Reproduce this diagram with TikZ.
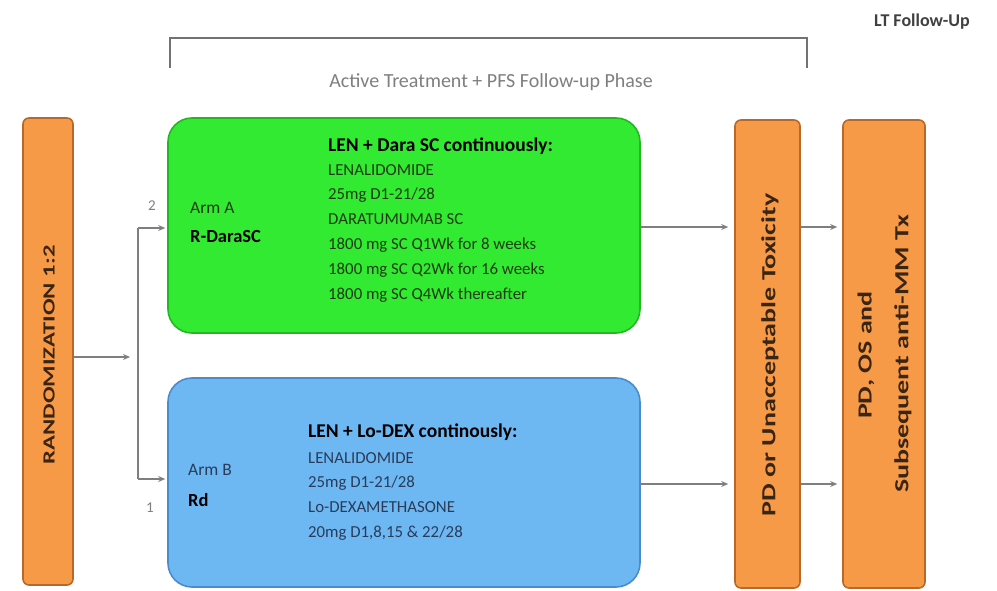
\documentclass[tikz,border=0pt]{standalone}
\usepackage{fontspec}
\setmainfont{Carlito}
\usetikzlibrary{arrows.meta,positioning,calc}
\definecolor{orangebox}{HTML}{F79A48}
\definecolor{orangeedge}{HTML}{B8692A}
\definecolor{greenbox}{HTML}{33EA33}
\definecolor{greenedge}{HTML}{22B822}
\definecolor{bluebox}{HTML}{6DB8F2}
\definecolor{blueedge}{HTML}{4A8CCB}
\definecolor{linegray}{HTML}{7F7F7F}
\definecolor{browntext}{HTML}{3A2412}
\definecolor{greentext}{HTML}{1E3A12}
\definecolor{bluetext}{HTML}{2A3C5A}
\tikzset{
  x=1pt, y=-1pt,
  orangebar/.style={draw=orangeedge, line width=1.6pt, fill=orangebox, rounded corners=6pt, inner sep=0pt},
  armbox/.style={rounded corners=24pt, line width=1.6pt, inner sep=0pt},
  arr/.style={draw=linegray, line width=1.4pt, -{Stealth[length=7pt,width=6pt]}},
  plain/.style={draw=linegray, line width=1.4pt},
  bartext/.style={font=\fontsize{20}{24}\selectfont\bfseries, text=browntext, rotate=90, inner sep=0pt},
  body/.style={inner sep=0pt, anchor=north west, align=left}
}
\begin{document}
\begin{tikzpicture}
\useasboundingbox (0,0) rectangle (997,591);
\fill[white] (0,0) rectangle (997,591);

% bars
\node[orangebar, minimum width=50pt, minimum height=467pt] (rand) at (48,351.5) {};
\node[bartext, font=\fontsize{17}{20}\selectfont\bfseries] (randtxt) at (49,355) {\scalebox{1.45}[1]{RANDOMIZATION 1:2}};
\node[orangebar, minimum width=65pt, minimum height=468pt] (pd) at (767.5,354) {};
\node[bartext] (pdtxt) at (770,355) {\scalebox{1.4}[1]{PD or Unacceptable Toxicity}};
\node[orangebar, minimum width=82pt, minimum height=468pt] (fu) at (884,354) {};
\node[bartext] (futxt1) at (866,355) {\scalebox{1.4}[1]{PD, OS and}};
\node[bartext] (futxt2) at (903,354) {\scalebox{1.4}[1]{Subsequent anti-MM Tx}};

% arm boxes
\node[armbox, draw=greenedge, fill=greenbox, minimum width=472pt, minimum height=215pt] (armA) at (404,225.5) {};
\node[armbox, draw=blueedge, fill=bluebox, minimum width=472pt, minimum height=209pt] (armB) at (404,482.5) {};

% arm A texts
\node[body, anchor=west, font=\fontsize{17.5}{20}\selectfont, text=greentext] (aA1) at (190,208) {Arm A};
\node[body, anchor=west, font=\fontsize{18.5}{20}\selectfont\bfseries, text=black] (aA2) at (190,237) {R-DaraSC};
\node[body, anchor=west, font=\fontsize{19.5}{22}\selectfont\bfseries, text=black] (aAh) at (328,146) {LEN + Dara SC continuously:};
\node[body, font=\fontsize{16.8}{24.8}\selectfont, text=greentext] (aAb) at (328,164) {LENALIDOMIDE\\25mg D1-21/28\\DARATUMUMAB SC\\1800 mg SC Q1Wk for 8 weeks\\1800 mg SC Q2Wk for 16 weeks\\1800 mg SC Q4Wk thereafter};

% arm B texts
\node[body, anchor=west, font=\fontsize{17.5}{20}\selectfont, text=bluetext] (aB1) at (188,470) {Arm B};
\node[body, anchor=west, font=\fontsize{18.5}{20}\selectfont\bfseries, text=black] (aB2) at (188,500) {Rd};
\node[body, anchor=west, font=\fontsize{19.5}{22}\selectfont\bfseries, text=black] (aBh) at (308,432) {LEN + Lo-DEX continously:};
\node[body, font=\fontsize{16.8}{24.8}\selectfont, text=bluetext] (aBb) at (308,452) {LENALIDOMIDE\\25mg D1-21/28\\Lo-DEXAMETHASONE\\20mg D1,8,15 \& 22/28};

% randomization split
\coordinate (split) at (138,357);
\coordinate (splitA) at (138,228);
\coordinate (splitB) at (138,479);
\draw[arr] (rand.east |- split) -- ([xshift=-8pt]split);
\draw[plain] (splitA) -- (splitB);
\draw[arr] (splitA) -- ([xshift=-2pt]armA.west |- splitA);
\draw[arr] (splitB) -- ([xshift=-2pt]armB.west |- splitB);
\node[text=linegray, font=\fontsize{15}{16}\selectfont] (n2) at (152,206) {2};
\node[text=linegray, font=\fontsize{15}{16}\selectfont] (n1) at (150,508) {1};

% arms to PD
\coordinate (yA) at (0,227);
\coordinate (yB) at (0,484);
\draw[arr] (armA.east |- yA) -- ([xshift=-6pt]pd.west |- yA);
\draw[arr] ([xshift=-2pt]armB.east |- yB) -- ([xshift=-6pt]pd.west |- yB);
\draw[arr] (pd.east |- yA) -- ([xshift=-5pt]fu.west |- yA);
\draw[arr] (pd.east |- yB) -- ([xshift=-5pt]fu.west |- yB);

% phase bracket
\coordinate (brL) at (170,68);
\coordinate (brR) at (807,68);
\draw[plain, draw=linegray!90!black] (brL) -- (170,38) -- (807,38) -- (brR);
\node[text=linegray, font=\fontsize{20}{24}\selectfont] (phase) at (491,82) {Active Treatment + PFS Follow-up Phase};
\node[text=black!75, font=\fontsize{18}{20}\selectfont\bfseries] (ltfu) at (922,22) {LT Follow-Up};
\end{tikzpicture}
\end{document}
